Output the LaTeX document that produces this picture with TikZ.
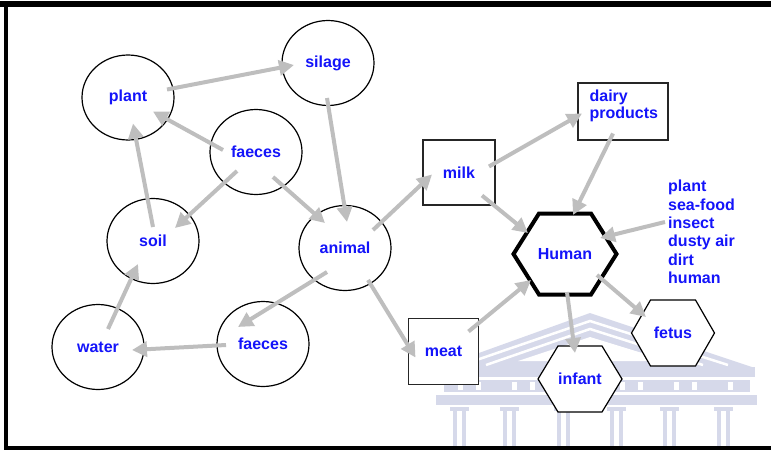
\documentclass[tikz,border=0pt]{standalone}
\usepackage{fontspec}
\setmainfont{Liberation Sans}
\usetikzlibrary{arrows.meta,shapes.geometric,calc,backgrounds}

\definecolor{txtblue}{RGB}{20,20,250}
\definecolor{arrgray}{RGB}{190,190,190}
\definecolor{crest}{RGB}{214,217,234}

% closed hexagon around a named point: half width, half width of top edge, half height
\newcommand\hexagonpath[4]{%
  ($(#1)+(-#2,0)$) -- ($(#1)+(-#3,-#4)$) -- ($(#1)+(#3,-#4)$) --
  ($(#1)+(#2,0)$) -- ($(#1)+(#3,#4)$) -- ($(#1)+(-#3,#4)$) -- cycle}

\begin{document}
\begin{tikzpicture}[x=1pt,y=-1pt,
  every node/.style={font=\fontsize{16}{18.4}\selectfont\bfseries,
    text=txtblue, inner sep=0pt},
  blob/.style={ellipse, draw=black, line width=1.2pt,
    minimum width=92pt, minimum height=85pt, fill=white},
  boxnode/.style={rectangle, draw=black!85, line width=1.2pt, fill=white},
  hexnode/.style={rectangle},
  hexthin/.style={draw=black, line width=1.2pt, fill=white},
  hexthick/.style={draw=black, line width=4pt, fill=white, line join=miter},
  flow/.style={draw=arrgray, line width=4pt,
    -{Triangle[length=15pt,width=15pt]}},
]
\useasboundingbox (0,0) rectangle (771,450);

% ---- nodes ----
\node[blob] (plant)   at (128,97.5) {plant};
\node[blob] (silage)  at (328,63)   {silage};
\node[blob] (faecesA) at (256,152)  {faeces};
\node[blob] (soil)    at (153,241)  {soil};
\node[blob] (animal)  at (345,248)  {animal};
\node[blob] (water)   at (98,347)   {water};
\node[blob] (faecesB) at (263,344)  {faeces};

\node[boxnode, minimum width=72pt, minimum height=65pt] (milk) at (459,172.5) {milk};
\node[boxnode, minimum width=90pt, minimum height=57pt] (dairy) at (623,111.5) {};
\node[anchor=north west, align=left, font=\fontsize{16}{17}\selectfont\bfseries]
  (dairytxt) at ($(dairy.north west)+(12,7)$) {dairy\\products};
\node[boxnode, minimum width=70pt, minimum height=66pt] (meat) at (443.5,351.5) {meat};

\node[hexnode, minimum width=103pt, minimum height=81pt] (human)  at (565,254) {Human};
\node[hexnode, minimum width=84pt,  minimum height=66pt] (infant) at (580,379) {infant};
\node[hexnode, minimum width=83pt,  minimum height=66pt] (fetus)  at (673,333) {fetus};

\node[anchor=west, align=left] (sources) at (668,232)
  {plant\\sea-food\\insect\\dusty air\\dirt\\human};

% ---- background: crest and hexagon outlines ----
\begin{scope}[on background layer]
  \fill[crest] (440,367) -- (590,313) -- (752,367) -- cycle;
  \draw[white, line width=2.5pt] (462,365) -- (590,321) -- (728,365);
  \draw[white, line width=2.5pt] (486,365) -- (590,329) -- (703,365);
  \fill[white] (518,361) -- (590,337) -- (668,361) -- cycle;
  \fill[crest] (438,367) rectangle (755,377);
  \fill[crest] (444,380) rectangle (750,392);
  \foreach \x in {458,476,512,530,566,584,620,638,674,692,728}
    \fill[white] (\x,382) rectangle (\x+5,390);
  \fill[crest] (436,395) rectangle (757,405);
  \foreach \x in {453,503,557,610,663,717} {
    \fill[crest] (\x-3,407) rectangle (\x+16,411);
    \fill[crest] (\x,411) rectangle (\x+4,446);
    \fill[crest] (\x+9,411) rectangle (\x+13,446);
  }
  \draw[hexthick] \hexagonpath{human}{51.5}{26}{40.5};
  \draw[hexthin]  \hexagonpath{infant}{42}{22}{33};
  \draw[hexthin]  \hexagonpath{fetus}{41.5}{22.5}{33};
\end{scope}

% ---- frame ----
\draw[line width=6pt] (0,4) -- (771,4);
\draw[line width=4.5pt] (6,1) -- (6,450);
\draw[line width=4pt] (4,448) -- (771,448);

% ---- connectors ----
\draw[flow] ($(plant)+(39,-8)$)    -- ($(silage)+(-34,2)$);
\draw[flow] ($(faecesA)+(-33,-2)$) -- ($(plant)+(25,14)$);
\draw[flow] ($(soil)+(0,-14)$)     -- ($(plant)+(5,26)$);
\draw[flow] ($(faecesA)+(-19,19)$) -- ($(soil)+(22,-13)$);
\draw[flow] ($(faecesA)+(17,25)$)  -- ($(animal)+(-20,-25)$);
\draw[flow] ($(silage)+(-1,35)$)   -- ($(animal)+(2,-26)$);
\draw[flow] ($(animal)+(28,-18)$)  -- ($(milk)+(-27,2)$);
\draw[flow] ($(milk)+(30,-6)$)     -- ($(dairy)+(-41,2)$);
\draw[flow] ($(milk)+(23,23)$)     -- ($(human)+(-37,-21)$);
\draw[flow] ($(dairy)+(-10,22)$)   -- ($(human)+(8,-39)$);
\draw[flow] ($(sources.west)+(-3,-10)$) -- ($(human)+(35,-16)$);
\draw[flow] ($(animal)+(23,32)$)   -- ($(meat)+(-28,6)$);
\draw[flow] ($(meat)+(25,-20)$)    -- ($(human)+(-34,26)$);
\draw[flow] ($(human)+(2,38)$)     -- ($(infant)+(-5,-26)$);
\draw[flow] ($(human)+(32,21)$)    -- ($(fetus)+(-27,-16)$);
\draw[flow] ($(animal)+(-18,24)$)  -- ($(faecesB)+(-25,-17)$);
\draw[flow] ($(faecesB)+(-37,1)$)  -- ($(water)+(34,3)$);
\draw[flow] ($(water)+(10,-18)$)   -- ($(soil)+(-15,23)$);
\end{tikzpicture}
\end{document}
